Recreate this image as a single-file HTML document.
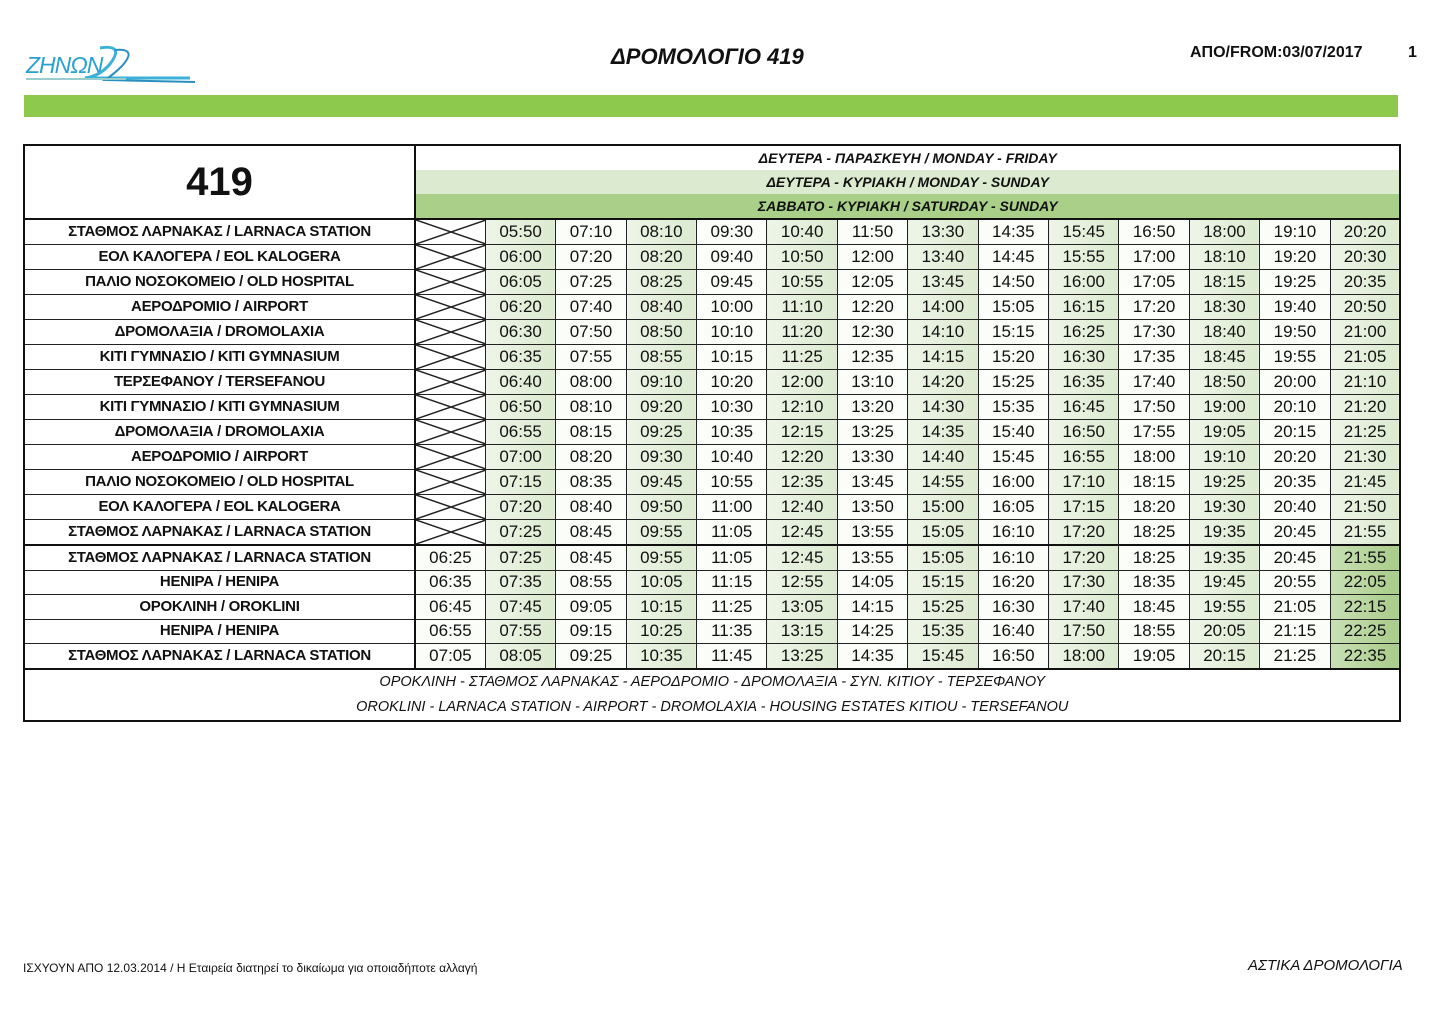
<!DOCTYPE html>
<html><head><meta charset="utf-8">
<style>
body{margin:0;width:1440px;height:1019px;background:#fff;position:relative;font-family:"Liberation Sans","DejaVu Sans",sans-serif;color:#111;overflow:hidden}
.abs{position:absolute}
table{position:absolute;left:23px;top:144px;width:1376px;border-collapse:collapse;table-layout:fixed;border:2.5px solid #111}
td{border:1.5px solid #222;height:23.5px;padding:0;text-align:center;font-size:17px;line-height:22px;white-space:nowrap;overflow:hidden}
td.n{font-weight:bold;font-size:15px;letter-spacing:-0.3px;border-right:2.5px solid #111}
td.g{background:linear-gradient(90deg,#eef5e8,#dcead0)}
td.w{background:#fbfdf9}
td.d{background:linear-gradient(90deg,#c9e0b4,#a8cc8a)}
td.x{padding:0;background:#fff}
td.x svg{display:block}
tr.sep td{border-top:2.5px solid #111}
.h td{font-style:italic;font-weight:bold;font-size:14px;height:24px;border-top:none;border-bottom:none}
</style></head><body>
<div class="abs" style="left:26px;top:52px;font-size:23px;color:#2aa0d0;font-style:italic;letter-spacing:-1px">ZHNΩN</div>
<svg class="abs" style="left:80px;top:44px" width="120" height="42"><path d="M20 4 Q45 0 30 20 Q20 32 5 34 L110 34" stroke="#3bb0d8" stroke-width="3" fill="none"/><path d="M35 6 Q58 4 42 22 Q34 30 25 36 L115 38" stroke="#2a8fbf" stroke-width="2" fill="none"/></svg>
<div class="abs" style="left:26px;top:78px;width:100px;height:2px;background:#9cc"></div>
<div class="abs" style="left:611px;top:44px;font-size:22px;font-weight:bold;font-style:italic">ΔΡΟΜΟΛΟΓΙΟ 419</div>
<div class="abs" style="left:1190px;top:44px;font-size:16px;font-weight:bold">ΑΠΟ/FROM:03/07/2017</div>
<div class="abs" style="left:1408px;top:44px;font-size:16px;font-weight:bold">1</div>
<div class="abs" style="left:24px;top:95px;width:1374px;height:22px;background:#8cc94d"></div>

<table>
<colgroup><col style="width:391px"><col span="14" style="width:70.4px"></colgroup>
<tr class="h"><td rowspan="3" style="font-size:40px;font-style:normal;font-weight:bold;border-bottom:2.5px solid #111;border-right:2.5px solid #111;background:#fff">419</td><td colspan="14" style="background:#fff">ΔΕΥΤΕΡΑ - ΠΑΡΑΣΚΕΥΗ / MONDAY - FRIDAY</td></tr>
<tr class="h"><td colspan="14" style="background:#dcebd0">ΔΕΥΤΕΡΑ - ΚΥΡΙΑΚΗ / MONDAY - SUNDAY</td></tr>
<tr class="h"><td colspan="14" style="background:#a9cf88;border-bottom:2.5px solid #111">ΣΑΒΒΑΤΟ - ΚΥΡΙΑΚΗ / SATURDAY - SUNDAY</td></tr>
<tr><td class="n">ΣΤΑΘΜΟΣ ΛΑΡΝΑΚΑΣ / LARNACA STATION</td><td class="x"><svg width="70" height="24"><path d="M0 0L70 24M0 24L70 0" stroke="#222" stroke-width="1.5"/></svg></td><td class="g">05:50</td><td class="w">07:10</td><td class="g">08:10</td><td class="w">09:30</td><td class="g">10:40</td><td class="w">11:50</td><td class="g">13:30</td><td class="w">14:35</td><td class="g">15:45</td><td class="w">16:50</td><td class="g">18:00</td><td class="w">19:10</td><td class="g">20:20</td></tr>
<tr><td class="n">ΕΟΛ ΚΑΛΟΓΕΡΑ / EOL KALOGERA</td><td class="x"><svg width="70" height="24"><path d="M0 0L70 24M0 24L70 0" stroke="#222" stroke-width="1.5"/></svg></td><td class="g">06:00</td><td class="w">07:20</td><td class="g">08:20</td><td class="w">09:40</td><td class="g">10:50</td><td class="w">12:00</td><td class="g">13:40</td><td class="w">14:45</td><td class="g">15:55</td><td class="w">17:00</td><td class="g">18:10</td><td class="w">19:20</td><td class="g">20:30</td></tr>
<tr><td class="n">ΠΑΛΙΟ ΝΟΣΟΚΟΜΕΙΟ / OLD HOSPITAL</td><td class="x"><svg width="70" height="24"><path d="M0 0L70 24M0 24L70 0" stroke="#222" stroke-width="1.5"/></svg></td><td class="g">06:05</td><td class="w">07:25</td><td class="g">08:25</td><td class="w">09:45</td><td class="g">10:55</td><td class="w">12:05</td><td class="g">13:45</td><td class="w">14:50</td><td class="g">16:00</td><td class="w">17:05</td><td class="g">18:15</td><td class="w">19:25</td><td class="g">20:35</td></tr>
<tr><td class="n">ΑΕΡΟΔΡΟΜΙΟ / AIRPORT</td><td class="x"><svg width="70" height="24"><path d="M0 0L70 24M0 24L70 0" stroke="#222" stroke-width="1.5"/></svg></td><td class="g">06:20</td><td class="w">07:40</td><td class="g">08:40</td><td class="w">10:00</td><td class="g">11:10</td><td class="w">12:20</td><td class="g">14:00</td><td class="w">15:05</td><td class="g">16:15</td><td class="w">17:20</td><td class="g">18:30</td><td class="w">19:40</td><td class="g">20:50</td></tr>
<tr><td class="n">ΔΡΟΜΟΛΑΞΙΑ / DROMOLAXIA</td><td class="x"><svg width="70" height="24"><path d="M0 0L70 24M0 24L70 0" stroke="#222" stroke-width="1.5"/></svg></td><td class="g">06:30</td><td class="w">07:50</td><td class="g">08:50</td><td class="w">10:10</td><td class="g">11:20</td><td class="w">12:30</td><td class="g">14:10</td><td class="w">15:15</td><td class="g">16:25</td><td class="w">17:30</td><td class="g">18:40</td><td class="w">19:50</td><td class="g">21:00</td></tr>
<tr><td class="n">ΚΙΤΙ ΓΥΜΝΑΣΙΟ / KITI GYMNASIUM</td><td class="x"><svg width="70" height="24"><path d="M0 0L70 24M0 24L70 0" stroke="#222" stroke-width="1.5"/></svg></td><td class="g">06:35</td><td class="w">07:55</td><td class="g">08:55</td><td class="w">10:15</td><td class="g">11:25</td><td class="w">12:35</td><td class="g">14:15</td><td class="w">15:20</td><td class="g">16:30</td><td class="w">17:35</td><td class="g">18:45</td><td class="w">19:55</td><td class="g">21:05</td></tr>
<tr><td class="n">ΤΕΡΣΕΦΑΝΟΥ / TERSEFANOU</td><td class="x"><svg width="70" height="24"><path d="M0 0L70 24M0 24L70 0" stroke="#222" stroke-width="1.5"/></svg></td><td class="g">06:40</td><td class="w">08:00</td><td class="g">09:10</td><td class="w">10:20</td><td class="g">12:00</td><td class="w">13:10</td><td class="g">14:20</td><td class="w">15:25</td><td class="g">16:35</td><td class="w">17:40</td><td class="g">18:50</td><td class="w">20:00</td><td class="g">21:10</td></tr>
<tr><td class="n">ΚΙΤΙ ΓΥΜΝΑΣΙΟ / KITI GYMNASIUM</td><td class="x"><svg width="70" height="24"><path d="M0 0L70 24M0 24L70 0" stroke="#222" stroke-width="1.5"/></svg></td><td class="g">06:50</td><td class="w">08:10</td><td class="g">09:20</td><td class="w">10:30</td><td class="g">12:10</td><td class="w">13:20</td><td class="g">14:30</td><td class="w">15:35</td><td class="g">16:45</td><td class="w">17:50</td><td class="g">19:00</td><td class="w">20:10</td><td class="g">21:20</td></tr>
<tr><td class="n">ΔΡΟΜΟΛΑΞΙΑ / DROMOLAXIA</td><td class="x"><svg width="70" height="24"><path d="M0 0L70 24M0 24L70 0" stroke="#222" stroke-width="1.5"/></svg></td><td class="g">06:55</td><td class="w">08:15</td><td class="g">09:25</td><td class="w">10:35</td><td class="g">12:15</td><td class="w">13:25</td><td class="g">14:35</td><td class="w">15:40</td><td class="g">16:50</td><td class="w">17:55</td><td class="g">19:05</td><td class="w">20:15</td><td class="g">21:25</td></tr>
<tr><td class="n">ΑΕΡΟΔΡΟΜΙΟ / AIRPORT</td><td class="x"><svg width="70" height="24"><path d="M0 0L70 24M0 24L70 0" stroke="#222" stroke-width="1.5"/></svg></td><td class="g">07:00</td><td class="w">08:20</td><td class="g">09:30</td><td class="w">10:40</td><td class="g">12:20</td><td class="w">13:30</td><td class="g">14:40</td><td class="w">15:45</td><td class="g">16:55</td><td class="w">18:00</td><td class="g">19:10</td><td class="w">20:20</td><td class="g">21:30</td></tr>
<tr><td class="n">ΠΑΛΙΟ ΝΟΣΟΚΟΜΕΙΟ / OLD HOSPITAL</td><td class="x"><svg width="70" height="24"><path d="M0 0L70 24M0 24L70 0" stroke="#222" stroke-width="1.5"/></svg></td><td class="g">07:15</td><td class="w">08:35</td><td class="g">09:45</td><td class="w">10:55</td><td class="g">12:35</td><td class="w">13:45</td><td class="g">14:55</td><td class="w">16:00</td><td class="g">17:10</td><td class="w">18:15</td><td class="g">19:25</td><td class="w">20:35</td><td class="g">21:45</td></tr>
<tr><td class="n">ΕΟΛ ΚΑΛΟΓΕΡΑ / EOL KALOGERA</td><td class="x"><svg width="70" height="24"><path d="M0 0L70 24M0 24L70 0" stroke="#222" stroke-width="1.5"/></svg></td><td class="g">07:20</td><td class="w">08:40</td><td class="g">09:50</td><td class="w">11:00</td><td class="g">12:40</td><td class="w">13:50</td><td class="g">15:00</td><td class="w">16:05</td><td class="g">17:15</td><td class="w">18:20</td><td class="g">19:30</td><td class="w">20:40</td><td class="g">21:50</td></tr>
<tr><td class="n">ΣΤΑΘΜΟΣ ΛΑΡΝΑΚΑΣ / LARNACA STATION</td><td class="x"><svg width="70" height="24"><path d="M0 0L70 24M0 24L70 0" stroke="#222" stroke-width="1.5"/></svg></td><td class="g">07:25</td><td class="w">08:45</td><td class="g">09:55</td><td class="w">11:05</td><td class="g">12:45</td><td class="w">13:55</td><td class="g">15:05</td><td class="w">16:10</td><td class="g">17:20</td><td class="w">18:25</td><td class="g">19:35</td><td class="w">20:45</td><td class="g">21:55</td></tr>
<tr class="sep"><td class="n">ΣΤΑΘΜΟΣ ΛΑΡΝΑΚΑΣ / LARNACA STATION</td><td class="w">06:25</td><td class="g">07:25</td><td class="w">08:45</td><td class="g">09:55</td><td class="w">11:05</td><td class="g">12:45</td><td class="w">13:55</td><td class="g">15:05</td><td class="w">16:10</td><td class="g">17:20</td><td class="w">18:25</td><td class="g">19:35</td><td class="w">20:45</td><td class="d">21:55</td></tr>
<tr><td class="n">ΗΕΝΙΡΑ / HENIPA</td><td class="w">06:35</td><td class="g">07:35</td><td class="w">08:55</td><td class="g">10:05</td><td class="w">11:15</td><td class="g">12:55</td><td class="w">14:05</td><td class="g">15:15</td><td class="w">16:20</td><td class="g">17:30</td><td class="w">18:35</td><td class="g">19:45</td><td class="w">20:55</td><td class="d">22:05</td></tr>
<tr><td class="n">ΟΡΟΚΛΙΝΗ / OROKLINI</td><td class="w">06:45</td><td class="g">07:45</td><td class="w">09:05</td><td class="g">10:15</td><td class="w">11:25</td><td class="g">13:05</td><td class="w">14:15</td><td class="g">15:25</td><td class="w">16:30</td><td class="g">17:40</td><td class="w">18:45</td><td class="g">19:55</td><td class="w">21:05</td><td class="d">22:15</td></tr>
<tr><td class="n">ΗΕΝΙΡΑ / HENIPA</td><td class="w">06:55</td><td class="g">07:55</td><td class="w">09:15</td><td class="g">10:25</td><td class="w">11:35</td><td class="g">13:15</td><td class="w">14:25</td><td class="g">15:35</td><td class="w">16:40</td><td class="g">17:50</td><td class="w">18:55</td><td class="g">20:05</td><td class="w">21:15</td><td class="d">22:25</td></tr>
<tr><td class="n">ΣΤΑΘΜΟΣ ΛΑΡΝΑΚΑΣ / LARNACA STATION</td><td class="w">07:05</td><td class="g">08:05</td><td class="w">09:25</td><td class="g">10:35</td><td class="w">11:45</td><td class="g">13:25</td><td class="w">14:35</td><td class="g">15:45</td><td class="w">16:50</td><td class="g">18:00</td><td class="w">19:05</td><td class="g">20:15</td><td class="w">21:25</td><td class="d">22:35</td></tr>
<tr><td colspan="15" style="height:50px;border-top:2.5px solid #111;font-style:italic;font-size:14.5px;line-height:25px;background:#fff">ΟΡΟΚΛΙΝΗ - ΣΤΑΘΜΟΣ ΛΑΡΝΑΚΑΣ - ΑΕΡΟΔΡΟΜΙΟ - ΔΡΟΜΟΛΑΞΙΑ - ΣΥΝ. ΚΙΤΙΟΥ - ΤΕΡΣΕΦΑΝΟΥ<br>OROKLINI - LARNACA STATION - AIRPORT - DROMOLAXIA - HOUSING ESTATES KITIOU - TERSEFANOU</td></tr>
</table>

<div class="abs" style="left:23px;top:961px;font-size:12px">ΙΣΧΥΟΥΝ ΑΠΟ 12.03.2014 / Η Εταιρεία διατηρεί το δικαίωμα για οποιαδήποτε αλλαγή</div>
<div class="abs" style="left:1248px;top:957px;font-size:15px;font-style:italic">ΑΣΤΙΚΑ ΔΡΟΜΟΛΟΓΙΑ</div>
</body></html>
